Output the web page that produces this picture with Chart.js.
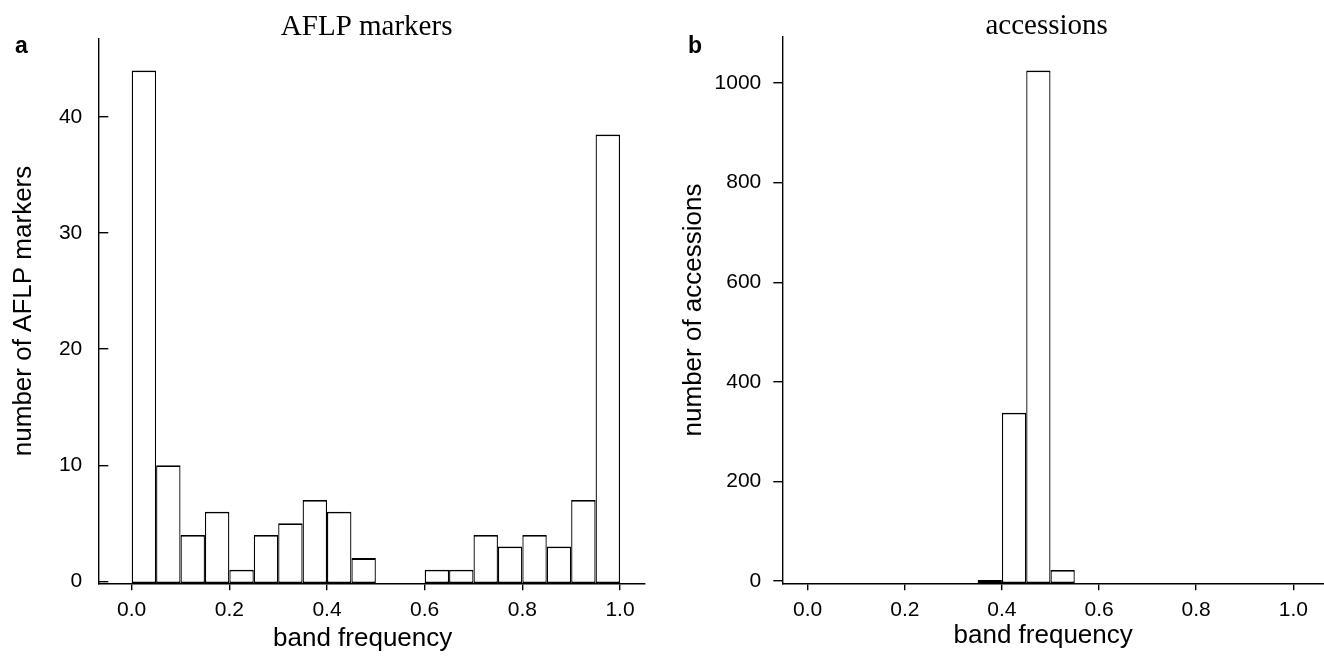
<!DOCTYPE html>
<html>
<head>
<meta charset="utf-8">
<title>Band frequency histograms</title>
<script src="https://cdn.jsdelivr.net/npm/chart.js@4.4.1/dist/chart.umd.min.js"></script>
<style>
  html, body { margin: 0; padding: 0; background: #fff; }
  #wrap { position: relative; width: 1324px; height: 656px; }
  canvas { position: absolute; top: 0; }
  #histA { left: 0; }
  #histB { left: 662px; }
</style>
</head>
<body>
<div id="wrap">
  <canvas id="histA" width="662" height="656"></canvas>
  <canvas id="histB" width="662" height="656"></canvas>
</div>
<script>
// midpoints of the 20 band-frequency bins (width 0.05)
const binMids = [0.025, 0.075, 0.125, 0.175, 0.225, 0.275, 0.325, 0.375, 0.425, 0.475,
                 0.525, 0.575, 0.625, 0.675, 0.725, 0.775, 0.825, 0.875, 0.925, 0.975];

// (a) AFLP markers per bin, null = empty bin
const markerCounts = [44, 10, 4, 6, 1, 4, 5, 7, 6, 2,
                      null, null, 1, 1, 4, 3, 4, 3, 7, 38.5];

// (b) accessions per bin
const accessionCounts = [null, null, null, null, null, null, null, 2, 338, 1025,
                         22, null, null, null, null, null, null, null, null, null];

const freqTicks = [0, 0.2, 0.4, 0.6, 0.8, 1.0];
const markerTicks = [0, 10, 20, 30, 40];
const accessionTicks = [0, 200, 400, 600, 800, 1000];

Chart.defaults.font.family = '"Liberation Sans", Arial, Helvetica, sans-serif';
Chart.defaults.color = '#000';

// panel letter, serif heading and x axis caption
const panelText = {
  id: 'panelText',
  afterDraw(chart, args, o) {
    const { ctx, chartArea: a } = chart;
    const mid = (a.left + a.right) / 2;
    ctx.save();
    ctx.fillStyle = '#000';
    ctx.textBaseline = 'alphabetic';
    ctx.textAlign = 'left';
    ctx.font = 'bold 23px "Liberation Sans", Arial, sans-serif';
    ctx.fillText(o.letter, o.letterX, 53);
    ctx.textAlign = 'center';
    ctx.font = '29px "Liberation Serif", "Times New Roman", serif';
    ctx.fillText(o.title, mid + o.titleShift, o.titleY);
    ctx.font = '26px "Liberation Sans", Arial, sans-serif';
    ctx.fillText(o.xTitle, mid + o.xTitleShift, o.xTitleY);
    ctx.restore();
  }
};

function histogram(id, counts, p) {
  return new Chart(document.getElementById(id), {
    type: 'bar',
    data: {
      datasets: [{
        data: binMids.map((x, i) => ({ x: x, y: counts[i] })),
        base: p.yMin,
        backgroundColor: '#fff',
        borderColor: '#000',
        borderWidth: { top: 1.8, bottom: 1.8, left: 1.3, right: 1.3 },
        borderSkipped: false,
        inflateAmount: 0,
        barPercentage: 1,
        categoryPercentage: 1
      }]
    },
    options: {
      responsive: false,
      animation: false,
      layout: { padding: { top: 36.7, right: p.padRight, bottom: 0, left: 0 } },
      plugins: {
        legend: { display: false },
        tooltip: { enabled: false },
        panelText: p.text
      },
      scales: {
        x: {
          type: 'linear',
          offset: false,
          min: p.xMin,
          max: p.xMax,
          afterBuildTicks: s => { s.ticks = freqTicks.map(value => ({ value })); },
          afterFit: s => { s.height = 72.7; },
          grid: { offset: false, drawOnChartArea: false, tickLength: 7, color: '#000', lineWidth: 1.4 },
          border: { display: true, color: '#000', width: 1.4 },
          ticks: {
            font: { size: 21 },
            padding: 7,
            maxRotation: 0,
            autoSkip: false,
            callback: v => v.toFixed(1)
          }
        },
        y: {
          type: 'linear',
          min: p.yMin,
          max: p.yMax,
          afterBuildTicks: s => { s.ticks = p.yTicks.map(value => ({ value })); },
          afterFit: s => { s.width = p.yWidth; },
          grid: { drawOnChartArea: false, tickLength: p.yTickLen, color: '#000', lineWidth: 1.4 },
          border: { display: true, color: '#000', width: 1.4 },
          ticks: { font: { size: 21 }, padding: p.yTickPad, callback: v => String(v) },
          title: {
            display: true,
            text: p.yTitle,
            font: { size: 26 },
            padding: { top: p.yTitlePad, bottom: 0 }
          }
        }
      }
    },
    plugins: [panelText]
  });
}

histogram('histA', markerCounts, {
  xMin: -0.0684, xMax: 1.0512,
  yMin: -0.17, yMax: 46.75,
  yTicks: markerTicks,
  yWidth: 98.3, padRight: 17,
  yTickLen: -10, yTickPad: 26,
  yTitle: 'number of AFLP markers', yTitlePad: 8.4,
  text: { letter: 'a', letterX: 15, title: 'AFLP markers', titleShift: -5, titleY: 35,
          xTitle: 'band frequency', xTitleShift: -9, xTitleY: 646 }
});

histogram('histB', accessionCounts, {
  xMin: -0.0523, xMax: 1.0632,
  yMin: -4.6, yMax: 1093,
  yTicks: accessionTicks,
  yWidth: 120.3, padRight: 0,
  yTickLen: 9, yTickPad: 12,
  yTitle: 'number of accessions', yTitlePad: 16.4,
  text: { letter: 'b', letterX: 26, title: 'accessions', titleShift: -6.5, titleY: 34,
          xTitle: 'band frequency', xTitleShift: -10, xTitleY: 643 }
});
</script>
</body>
</html>
